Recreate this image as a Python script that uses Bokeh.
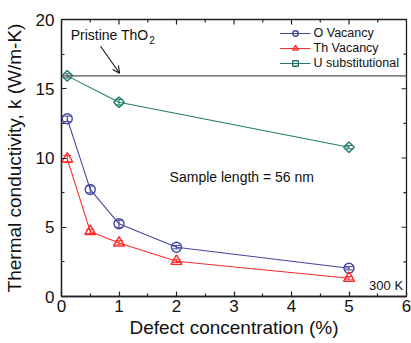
import math
from bokeh.plotting import figure
from bokeh.models import (Range1d, Span, Arrow, OpenHead, Label,
                          Whisker, ColumnDataSource, FixedTicker, Legend, LegendItem)
from bokeh.embed import file_html
from bokeh.resources import INLINE

# ---- data ----
o_x = [0.1, 0.5, 1, 2, 5]
o_k = [12.83, 7.73, 5.25, 3.56, 2.04]
o_err = [0.2, 0.25, 0.25, 0.12, 0.12]
th_x = [0.1, 0.5, 1, 2, 5]
th_k = [9.94, 4.70, 3.87, 2.55, 1.32]
th_err = [0.25, 0.15, 0.15, 0.1, 0.12]
u_x = [0.1, 1, 5]
u_k = [15.93, 14.03, 10.78]
u_err = [0.15, 0.2, 0.12]
pristine_k = 15.93
x_ticks = [0, 1, 2, 3, 4, 5, 6]
y_ticks = [0, 5, 10, 15, 20]
x_minor = [0.5, 1.5, 2.5, 3.5, 4.5, 5.5]
y_minor = [2.5, 7.5, 12.5, 17.5]

O_COL = "#45459e"
TH_COL = "#ff2b2b"
U_COL = "#237a6c"
AX_COL = "#222222"
TXT = "#111111"
FONT = "Liberation Sans"

p = figure(frame_width=345, frame_height=277, x_range=Range1d(0, 6), y_range=Range1d(0, 20),
           output_backend="svg", toolbar_location=None,
           min_border_left=58, min_border_right=8, min_border_top=19, min_border_bottom=46)
p.grid.visible = False
p.outline_line_color = AX_COL
p.outline_line_width = 1.3
p.background_fill_color = "white"

xt = FixedTicker(ticks=x_ticks, minor_ticks=x_minor)
yt = FixedTicker(ticks=y_ticks, minor_ticks=y_minor)

for ax, ticker in [(p.xaxis[0], xt), (p.yaxis[0], yt)]:
    ax.ticker = ticker
    ax.axis_line_color = AX_COL
    ax.axis_line_width = 1.3
    ax.major_tick_in = 5
    ax.major_tick_out = 0
    ax.minor_tick_in = 3
    ax.minor_tick_out = 0
    ax.major_tick_line_color = AX_COL
    ax.minor_tick_line_color = AX_COL
    ax.major_tick_line_width = 1.2
    ax.minor_tick_line_width = 1.2
    ax.major_label_text_font = FONT
    ax.major_label_text_font_size = "17px"
    ax.major_label_text_color = TXT
    ax.axis_label_text_font = FONT
    ax.axis_label_text_font_size = "19px"
    ax.axis_label_text_font_style = "normal"
    ax.axis_label_text_color = TXT

p.xaxis[0].axis_label = "Defect concentration (%)"
p.yaxis[0].axis_label = "Thermal conductivity, k (W/m-K)"
p.xaxis[0].major_label_standoff = 3
p.xaxis[0].axis_label_standoff = 2
p.yaxis[0].major_label_standoff = 7
p.yaxis[0].axis_label_standoff = 8

# mirrored ticks on top and right edges (drawn from the tick lists)
p.ray(x=x_ticks, y=[20] * len(x_ticks), angle=-math.pi / 2, length=5, length_units="screen",
      line_color=AX_COL, line_width=1.2)
p.ray(x=x_minor, y=[20] * len(x_minor), angle=-math.pi / 2, length=3, length_units="screen",
      line_color=AX_COL, line_width=1.2)
p.ray(x=[6] * len(y_ticks), y=y_ticks, angle=math.pi, length=5, length_units="screen",
      line_color=AX_COL, line_width=1.2)
p.ray(x=[6] * len(y_minor), y=y_minor, angle=math.pi, length=3, length_units="screen",
      line_color=AX_COL, line_width=1.2)

# pristine line
p.add_layout(Span(location=pristine_k, dimension="width", line_color="#555555", line_width=1.3))

# series
items = []
for name, xs, ks, es, col, mk, sz, ang in [
    ("O Vacancy", o_x, o_k, o_err, O_COL, "circle", 10, 0),
    ("Th Vacancy", th_x, th_k, th_err, TH_COL, "triangle", 11, 0),
    ("U substitutional", u_x, u_k, u_err, U_COL, "square", 7.5, math.pi / 4),
]:
    src = ColumnDataSource(dict(x=xs, y=ks, lo=[k - e for k, e in zip(ks, es)],
                                hi=[k + e for k, e in zip(ks, es)]))
    ln = p.line("x", "y", source=src, line_color=col, line_width=1.1)
    w = Whisker(base="x", lower="lo", upper="hi", source=src, line_color=col, line_width=1.1)
    w.upper_head.size = 8
    w.lower_head.size = 8
    w.upper_head.line_color = col
    w.lower_head.line_color = col
    p.add_layout(w)
    sc = p.scatter("x", "y", source=src, marker=mk, size=sz, angle=ang,
                   line_color=col, line_width=1.4, fill_color="white", fill_alpha=0)
    items.append(LegendItem(label=name, renderers=[ln, sc]))

legend = Legend(items=items, location="top_right")
legend.label_text_font = FONT
legend.label_text_font_size = "12.5px"
legend.label_text_color = TXT
legend.border_line_alpha = 0
legend.background_fill_alpha = 0
legend.glyph_width = 31
legend.glyph_height = 14
legend.label_height = 14
legend.label_standoff = 3
legend.spacing = 1
legend.padding = 5
legend.margin = 2
p.add_layout(legend)

# annotations
p.add_layout(Label(x=0.16, y=18.85, text="Pristine ThO", text_font=FONT, text_font_size="14px",
                   text_baseline="middle", text_color=TXT))
p.add_layout(Label(x=0.16, y=18.85, x_offset=78.5, y_offset=-5, text="2", text_font=FONT,
                   text_font_size="10px", text_baseline="middle", text_color=TXT))
p.add_layout(Arrow(x_start=0.68, y_start=18.07, x_end=1.01, y_end=16.12, line_color=TXT,
                   line_width=1.1, end=OpenHead(size=7, line_color=TXT, line_width=1.1)))
p.add_layout(Label(x=1.88, y=8.6, text="Sample length = 56 nm", text_font=FONT,
                   text_font_size="14px", text_baseline="middle", text_color=TXT))
p.add_layout(Label(x=5.94, y=0.8, text="300 K", text_font=FONT, text_font_size="13px",
                   text_baseline="middle", text_align="right", text_color=TXT))

open("out.html", "w").write(file_html(p, INLINE))
